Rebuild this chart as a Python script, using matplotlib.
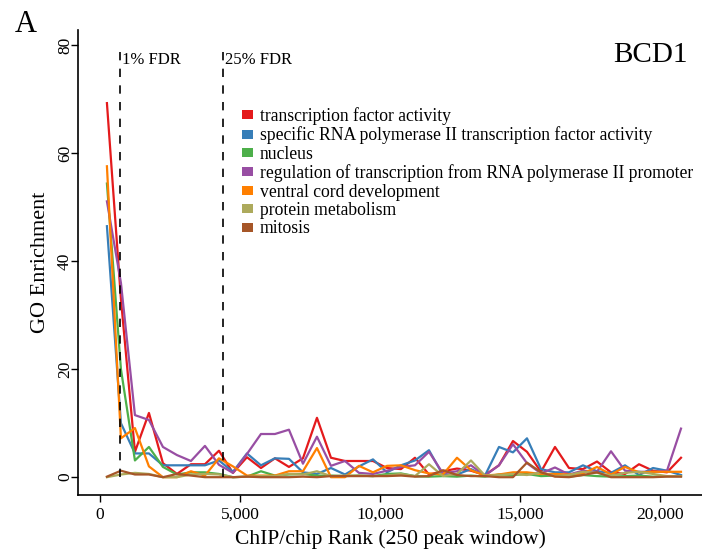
import matplotlib
matplotlib.use("Agg")
import matplotlib.pyplot as plt
from matplotlib.patches import Patch
from matplotlib.ticker import FuncFormatter

# window centres (250 peak window, step 500)
rank = [250 + 500 * k for k in range(42)]

tf_activity = [69.3, 33, 4.7, 11.9, 2.6, 0.6, 2.4, 2.4, 4.9, 0.8, 3.7, 1.7, 3.5, 1.9, 3.5,
               11.0, 3.6, 3.0, 3.0, 3.0, 1.7, 1.5, 3.6, 0.5, 1.1, 1.6, 1.2, 0.4, 2.2, 6.7,
               4.7, 1.0, 5.6, 1.7, 1.5, 2.9, 0.9, 0.6, 2.4, 1.2, 0.9, 3.6]
pol2_tf = [46.5, 10, 4.4, 4.4, 2.2, 2.2, 2.2, 2.2, 3.1, 1.0, 4.4, 2.2, 3.5, 3.4, 0.9,
           0.6, 1.7, 0.5, 2.0, 3.3, 0.9, 2.2, 3.1, 5.0, 0.4, 0.5, 1.5, 0.3, 5.6, 4.6,
           7.2, 1.5, 0.9, 0.9, 2.2, 1.1, 0.8, 2.2, 0.4, 1.7, 1.2, 0.4]
nucleus = [54.4, 20, 3.1, 5.6, 1.9, 0.5, 0.9, 0.9, 0.6, 0.0, 0.1, 1.1, 0.3, 0.5, 0.6,
           0.3, 0.3, 0.2, 0.3, 0.2, 0.6, 0.7, 0.2, 0.1, 0.2, 0.1, 0.3, 0.1, 0.5, 0.4,
           0.6, 0.2, 0.3, 0.1, 0.4, 0.2, 0.1, 0.2, 0.3, 0.1, 0.2, 0.2]
pol2_reg = [51.1, 36, 11.5, 10.6, 5.6, 4.1, 3.0, 5.8, 2.3, 0.8, 4.3, 8.0, 8.0, 8.8, 2.5,
            7.5, 2.1, 3.0, 0.8, 0.6, 1.2, 1.9, 2.2, 4.7, 0.7, 1.1, 2.2, 0.3, 2.2, 6.1,
            2.6, 0.7, 1.8, 0.5, 1.2, 1.0, 4.8, 1.2, 1.0, 1.0, 1.2, 9.0]
ventral_cord = [57.6, 7.2, 9.1, 2.0, 0.0, 0.0, 1.1, 0.3, 3.5, 2.0, 0.3, 0.3, 0.3, 1.1, 1.1,
                5.4, 0.0, 0.0, 2.1, 0.9, 2.1, 2.2, 1.3, 0.7, 0.5, 3.6, 1.3, 0.3, 0.5, 0.9,
                0.9, 0.6, 0.6, 0.5, 0.7, 1.9, 0.5, 1.9, 0.9, 1.0, 1.0, 1.0]
protein_met = [0.0, 0.5, 0.8, 0.6, 0.0, 0.0, 0.5, 0.6, 0.5, 0.0, 0.1, 0.2, 0.2, 0.6, 0.5,
               1.1, 0.2, 0.3, 0.3, 0.2, 0.3, 0.6, 0.2, 2.4, 0.2, 0.6, 3.1, 0.3, 0.4, 0.6,
               0.4, 0.9, 0.2, 0.4, 1.0, 0.8, 0.3, 0.8, 1.0, 0.6, 0.2, 0.2]
mitosis = [0.1, 1.2, 0.5, 0.5, 0.0, 0.6, 0.3, 0.0, 0.0, 0.0, 0.1, 0.0, 0.0, 0.0, 0.1,
           0.0, 0.2, 0.2, 0.2, 0.2, 0.2, 0.3, 0.1, 0.2, 1.3, 0.4, 0.2, 0.2, 0.0, 0.0,
           2.7, 0.9, 0.1, 0.0, 0.4, 0.9, 0.0, 0.0, 0.0, 0.0, 0.1, 0.1]

labels = ["transcription factor activity",
          "specific RNA polymerase II transcription factor activity",
          "nucleus",
          "regulation of transcription from RNA polymerase II promoter",
          "ventral cord development",
          "protein metabolism",
          "mitosis"]
colors = ["#E41A1C", "#377EB8", "#4DAF4A", "#984EA3", "#FF7F00", "#ADAA5C", "#A65628"]
fdr_cuts = [720, 4400]
fdr_labels = ["1% FDR", "25% FDR"]

plt.rcParams["font.family"] = ["Liberation Serif", "DejaVu Serif"]

fig = plt.figure(figsize=(7.02, 5.5), dpi=100)
ax = fig.add_axes([0.111, 0.1, 0.889, 0.845])

series = [tf_activity, pol2_tf, nucleus, pol2_reg, ventral_cord, protein_met, mitosis]
for vals, c in zip(series, colors):
    ax.plot(rank, vals, color=c, lw=1.6)

for x, t in zip(fdr_cuts, fdr_labels):
    ax.vlines(x, 0, 80, colors="black", linestyles=(0, (5, 5)), lw=1.2)
    ax.text(x + 80, 77.3, t, fontsize=12, va="center", ha="left")

ax.set_xlim(-786, 21500)
ax.set_ylim(-3.3, 82.8)
ax.set_xticks([0, 5000, 10000, 15000, 20000])
ax.xaxis.set_major_formatter(FuncFormatter(lambda v, p: f"{int(v):,}"))
ax.set_yticks([0, 20, 40, 60, 80])
for lab in ax.get_yticklabels():
    lab.set_rotation(90)
    lab.set_va("center")
ax.tick_params(labelsize=12.5, length=5, width=1, direction="out")
ax.tick_params(axis="y", pad=-1.5)
ax.spines["top"].set_visible(False)
ax.spines["right"].set_visible(False)
ax.spines["left"].set_linewidth(1.2)
ax.spines["bottom"].set_linewidth(1.2)

ax.set_xlabel("ChIP/chip Rank (250 peak window)", fontsize=15.5, labelpad=5)
ax.set_ylabel("GO Enrichment", fontsize=16, labelpad=5)

handles = [Patch(facecolor=c, edgecolor="none") for c in colors]
ax.legend(handles, labels, loc="upper left", bbox_to_anchor=(0.332, 0.821),
          bbox_transform=fig.transFigure, frameon=False, fontsize=12.7,
          handlelength=0.65, handleheight=0.4, handletextpad=0.35,
          labelspacing=0.08, borderpad=0)

fig.text(0.98, 0.9, "BCD1", fontsize=21, ha="right", va="center")
fig.text(0.021, 0.955, "A", fontsize=22, ha="left", va="center")

fig.savefig("out.png", dpi=100)
